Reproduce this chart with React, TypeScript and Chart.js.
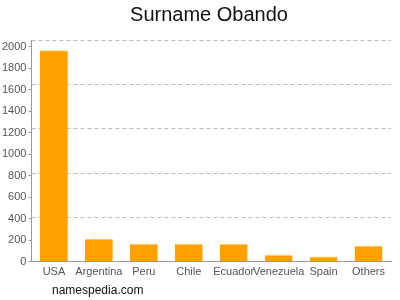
import React, { useEffect, useRef } from "react";
import { Chart, registerables } from "chart.js";

Chart.register(...registerables);

const categories = ["USA", "Argentina", "Peru", "Chile", "Ecuador", "Venezuela", "Spain", "Others"];
const counts = [1970, 212, 168, 168, 165, 65, 50, 150];
const axisMax = 2065;
const tickStep = 200;
const gridStep = 413;
const titleText = "Surname Obando";
const sourceText = "namespedia.com";

const FONT = "'Liberation Sans', Arial, sans-serif";

export default function App() {
  const ref = useRef<HTMLCanvasElement>(null);
  useEffect(() => {
    document.body.style.margin = "0";
    const ctx = ref.current!.getContext("2d")!;
    const chart = new Chart(ctx, {
      type: "bar",
      data: {
        labels: categories,
        datasets: [
          {
            data: counts,
            backgroundColor: "#FFA000",
            borderColor: "#FFC860",
            borderWidth: { top: 1, left: 0, right: 0, bottom: 0 },
            borderSkipped: false,
            barPercentage: 0.62,
            categoryPercentage: 1,
          },
        ],
      },
      options: {
        animation: false,
        responsive: false,
        layout: { padding: { left: 0, right: 9, top: 40, bottom: 17 } },
        plugins: {
          legend: { display: false },
          tooltip: { enabled: false },
        },
        scales: {
          x: {
            grid: { display: false, drawTicks: false, tickLength: 0 },
            border: { color: "#999" },
            ticks: { color: "#555", font: { family: FONT, size: 11 }, padding: 4, maxRotation: 0, autoSkip: false },
          },
          y: {
            min: 0,
            max: axisMax,
            position: "left",
            grid: { drawOnChartArea: false, drawTicks: true, tickLength: 3, color: "#999" },
            border: { color: "#999" },
            ticks: {
              stepSize: tickStep,
              includeBounds: false,
              color: "#555",
              font: { family: FONT, size: 11 },
              padding: 2,
              callback: (v: any) => String(v),
            },
          },
          y2: {
            min: 0,
            max: axisMax,
            position: "right",
            grid: { drawOnChartArea: true, drawTicks: false, color: "#bbb" },
            border: { display: false, dash: [4, 3] },
            ticks: { display: false, stepSize: gridStep },
          },
        },
      },
    });
    return () => chart.destroy();
  }, []);
  return (
    <div style={{ position: "relative", width: 400, height: 300 }}>
      <canvas ref={ref} width={400} height={300} />
      <div
        style={{
          position: "absolute",
          left: 209,
          top: 4,
          transform: "translateX(-50%)",
          whiteSpace: "nowrap",
          fontFamily: FONT,
          fontSize: 20,
          lineHeight: "20px",
          color: "#111",
        }}
      >
        {titleText}
      </div>
      <div
        style={{
          position: "absolute",
          left: 52,
          top: 283,
          fontFamily: FONT,
          fontSize: 12,
          color: "#111",
        }}
      >
        {sourceText}
      </div>
    </div>
  );
}
